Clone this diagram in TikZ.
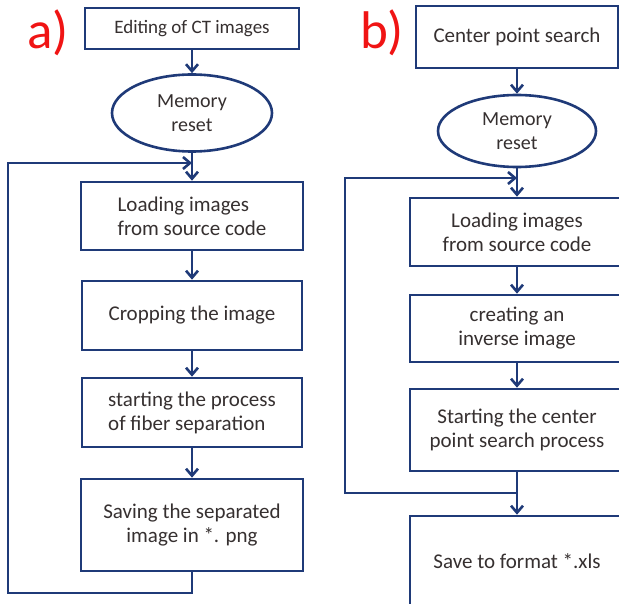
\documentclass[tikz,border=0pt]{standalone}
\usepackage{fontspec}
\setmainfont{Carlito}
\usetikzlibrary{positioning, shapes.geometric, arrows.meta}
\definecolor{framecol}{HTML}{1F3A78}
\definecolor{txtcol}{HTML}{363030}
\definecolor{tagcol}{HTML}{F01414}

\tikzset{
  stage/.style={draw=framecol, line width=2.6pt, fill=white, text=txtcol,
                align=center, inner sep=4pt, font=\fontsize{21}{24}\selectfont},
  memo/.style={ellipse, draw=framecol, line width=2.6pt, fill=white, text=txtcol,
               align=center, inner sep=0pt, font=\fontsize{20}{24}\selectfont},
  flow/.style={draw=framecol, line width=2.6pt,
               -{Straight Barb[length=7pt, width=12pt]}},
  tag/.style={text=tagcol, inner sep=0pt, font=\fontsize{53}{53}\selectfont},
}

\begin{document}
\begin{tikzpicture}[x=1pt, y=-1pt]
  \useasboundingbox (0,0) rectangle (619,604);
  \clip (0,0) rectangle (619,604);

  % a) fibre separation
  \node[tag] (taga) at (48,33) {a)};
  \node[stage, minimum width=214pt, minimum height=41pt,
        font=\fontsize{19}{23}\selectfont] (edit) at (192,28.5) {Editing of CT images};
  \node[memo, minimum width=160pt, minimum height=77pt] (reseta) at (192,113) {Memory\\reset};
  \node[stage, minimum width=222pt, minimum height=68pt, align=left] (loada) at (192,216)
        {Loading images\\from source code};
  \node[stage, minimum width=220pt, minimum height=69pt] (crop) at (192,315.5) {Cropping the image};
  \node[stage, minimum width=220pt, minimum height=69pt, align=left] (sep) at (192,412.5)
        {starting the process\\of fiber separation};
  \node[stage, minimum width=222pt, minimum height=92pt] (savea) at (192,525)
        {Saving the separated\\image in *. png};

  \coordinate (ja) at (192,163);
  \coordinate (cornera) at (8,593);
  \draw[flow] (edit) -- (reseta);
  \draw[flow] (reseta) -- (loada);
  \draw[flow] (loada) -- (crop);
  \draw[flow] (crop) -- (sep);
  \draw[flow] (sep) -- (savea);
  \draw[flow] (savea.south) |- (cornera) |- (ja);

  % b) centre point search
  \node[tag] (tagb) at (382,33) {b)};
  \node[stage, minimum width=202pt, minimum height=62pt] (centre) at (517,37) {Center point search};
  \node[memo, minimum width=158pt, minimum height=72pt] (resetb) at (517,131) {Memory\\reset};
  \node[stage, minimum width=214pt, minimum height=68pt] (loadb) at (517,232)
        {Loading images\\from source code};
  \node[stage, minimum width=214pt, minimum height=67pt] (inverse) at (517,328.5)
        {creating an\\inverse image};
  \node[stage, minimum width=214pt, minimum height=82pt] (search) at (517,430)
        {Starting the center\\point search process};
  \node[stage, minimum width=214pt, minimum height=90pt] (xls) at (517,561) {Save to format *.xls};

  \coordinate (jb) at (517,178);
  \coordinate (kb) at (517,493);
  \coordinate (cornerb) at (345,493);
  \draw[flow] (centre) -- (resetb);
  \draw[flow] (resetb) -- (loadb);
  \draw[flow] (loadb) -- (inverse);
  \draw[flow] (inverse) -- (search);
  \draw[flow] (search) -- (xls);
  \draw[flow] (kb) -- (cornerb) |- (jb);
\end{tikzpicture}
\end{document}
